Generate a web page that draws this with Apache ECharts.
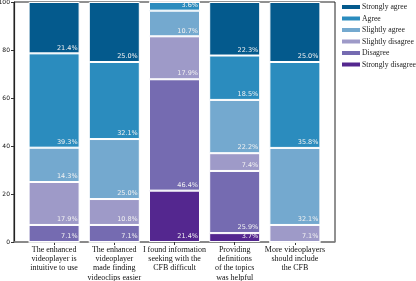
<!DOCTYPE html>
<html><head><meta charset="utf-8">
<script src="https://cdn.jsdelivr.net/npm/echarts@6/dist/echarts.min.js"></script>
<style>html,body{margin:0;padding:0;background:#fff}#c{width:416px;height:281px}</style>
</head><body><div id="c"></div>
<script>
var categories = ['The enhanced\nvideoplayer is\nintuitive to use','The enhanced\nvideoplayer\nmade finding\nvideoclips easier','I found information\nseeking with the\nCFB difficult','Providing\ndefinitions\nof the topics\nwas helpful','More videoplayers\nshould include\nthe CFB'];
var stronglyDisagree = [0, 0, 21.4, 3.7, 0];
var disagree = [7.1, 7.1, 46.4, 25.9, 0];
var slightlyDisagree = [17.9, 10.8, 17.9, 7.4, 7.1];
var slightlyAgree = [14.3, 25.0, 10.7, 22.2, 32.1];
var agree = [39.3, 32.1, 3.6, 18.5, 35.8];
var stronglyAgree = [21.4, 25.0, 0, 22.3, 25.0];
var yTicks = [0, 20, 40, 60, 80, 100];

var seriesDefs = [
  ['Strongly disagree', stronglyDisagree, '#54278f'],
  ['Disagree', disagree, '#756bb1'],
  ['Slightly disagree', slightlyDisagree, '#9e9ac8'],
  ['Slightly agree', slightlyAgree, '#74a9cf'],
  ['Agree', agree, '#2b8cbe'],
  ['Strongly agree', stronglyAgree, '#045a8d']
];
var chart = echarts.init(document.getElementById('c'), null, {renderer:'canvas'});
var series = seriesDefs.map(function(d){
  return {
    name: d[0], type: 'bar', stack: 'all', data: d[1], barWidth: 51,
    xAxisIndex: 0, yAxisIndex: 0,
    itemStyle: {color: d[2], borderColor: '#fff', borderWidth: 1},
    label: {show: true, position: 'insideBottomRight', distance: 2,
      color: '#f2f2f2', fontSize: 6.5, fontFamily: 'DejaVu Sans',
      formatter: function(p){ return p.value > 0 ? p.value.toFixed(1) + '%' : ''; }}
  };
});
chart.setOption({
  animation: false,
  textStyle: {fontFamily: 'Liberation Serif'},
  legend: {
    orient: 'vertical', left: 340, top: 3, padding: 0, itemWidth: 20, itemHeight: 6, itemGap: 3.5,
    data: ['Strongly agree','Agree','Slightly agree','Slightly disagree','Disagree','Strongly disagree'],
    textStyle: {fontFamily: 'Liberation Serif', fontSize: 7.7, color: '#222', padding: [0,0,0,-4]},
    icon: 'rect'
  },
  grid: [
    {left: 24, right: 91, top: 2, bottom: 39, containLabel: false, outerBoundsMode: 'none'},
    {left: 14, right: 81, top: 2, bottom: 39, containLabel: false, outerBoundsMode: 'none', show: true, borderColor: '#222', borderWidth: 1, backgroundColor: 'transparent'}
  ],
  xAxis: [
    {type: 'category', data: categories, gridIndex: 0,
     axisLine: {show: false}, axisTick: {show: true, alignWithLabel: true, length: 3, lineStyle: {color: '#333'}},
     axisLabel: {fontFamily: 'Liberation Serif', fontSize: 8, color: '#111', lineHeight: 9.3, margin: 3, interval: 0}},
    {type: 'value', gridIndex: 1, min: 0, max: 1, axisLine: {show: true, lineStyle: {color: '#888', width: 1.5}},
     axisTick: {show: false}, axisLabel: {show: false}, splitLine: {show: false}}
  ],
  yAxis: [
    {type: 'value', gridIndex: 0, min: 0, max: 100, interval: 20, offset: 10,
     axisLine: {show: true, lineStyle: {color: '#222', width: 1.2}},
     axisTick: {show: true, length: 3, lineStyle: {color: '#333'}},
     axisLabel: {fontFamily: 'DejaVu Sans', fontSize: 6, color: '#111', margin: 4,
       formatter: function(v){ return yTicks.indexOf(v) >= 0 ? String(v) : ''; }},
     splitLine: {show: false}},
    {type: 'value', gridIndex: 1, show: false, min: 0, max: 1}
  ],
  series: series
});
</script></body></html>
